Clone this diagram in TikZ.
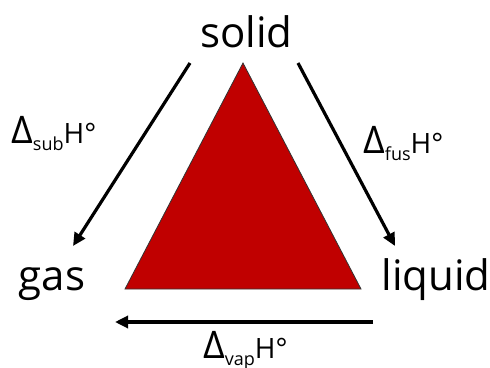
\documentclass[tikz,border=0pt]{standalone}
\usepackage{fontspec}
\setmainfont{Open Sans}
\usetikzlibrary{arrows.meta, positioning}
\definecolor{phasered}{HTML}{C00000}

\begin{document}
\begin{tikzpicture}[x=1pt, y=-1pt,
  phase/.style={font=\fontsize{42}{50}\selectfont, inner sep=0pt, anchor=base},
  enth/.style={font=\fontsize{28}{32}\selectfont, inner sep=0pt, anchor=base west},
  tr/.style={-{Triangle[length=13pt,width=12pt]}, line width=3.2pt}
]
  \useasboundingbox (0,0) rectangle (490,367);
  \node[phase] (solid)  at (246.5,47) {solid};
  \node[phase] (gas)    at (52,290)   {gas};
  \node[phase] (liquid) at (436,290)  {liquid};

  \draw[fill=phasered, draw=black!80, line width=0.8pt] (243,63) -- (125,289) -- (361,289) -- cycle;

  \coordinate (sub1) at (190,63);  \coordinate (sub2) at (73,246);
  \coordinate (fus1) at (298,63);  \coordinate (fus2) at (395,246);
  \coordinate (vap1) at (373,322); \coordinate (vap2) at (115,322);
  \draw[tr] (sub1) -- (sub2);
  \draw[tr] (fus1) -- (fus2);
  \draw[tr] (vap1) -- (vap2);

  \node[enth] (dsub) at (11,143) {{\fontsize{38}{40}\selectfont Δ}\raisebox{-7pt}{\fontsize{18}{20}\selectfont sub}H°};
  \node[enth] (dfus) at (363,153) {{\fontsize{38}{40}\selectfont Δ}\raisebox{-7pt}{\fontsize{18}{20}\selectfont fus}H°};
  \node[enth] (dvap) at (203,358) {{\fontsize{38}{40}\selectfont Δ}\raisebox{-7pt}{\fontsize{18}{20}\selectfont vap}H°};
\end{tikzpicture}
\end{document}
